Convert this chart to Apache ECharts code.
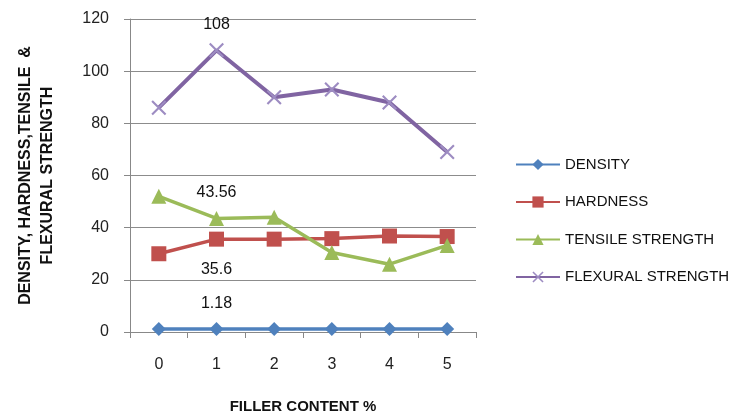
<!DOCTYPE html>
<html><head><meta charset="utf-8">
<script src="https://cdn.jsdelivr.net/npm/echarts@6/dist/echarts.min.js"></script>
<style>html,body{margin:0;padding:0;background:#fff}#c{width:740px;height:414px}</style>
</head><body><div id="c"></div>
<script>
const categories = ['0','1','2','3','4','5'];
const density = [1.18, 1.18, 1.18, 1.18, 1.18, 1.18];
const hardness = [30, 35.6, 35.6, 35.8, 36.8, 36.6];
const tensile = [52, 43.56, 44, 30.5, 26, 33.2];
const flexural = [86, 108, 90, 93, 88, 69];
const yTicks = {min: 0, max: 120, interval: 20};
const labelIndex = 1;

const font = 'Liberation Sans, Arial, sans-serif';
const crossPath = 'path://M0,1L1,0L10,9L9,10Z M9,0L10,1L1,10L0,9Z';

function mkData(vals, labelPos, offset) {
  return vals.map((v, i) => i === labelIndex ? {
    value: v,
    label: {show: true, position: labelPos, offset: [0, offset], color: '#111', fontSize: 16, fontFamily: font,
      formatter: p => String(p.value)}
  } : v);
}

const chart = echarts.init(document.getElementById('c'));
chart.setOption({
  animation: false,
  textStyle: {fontFamily: font},
  grid: {left: 130, right: 264, top: 19, bottom: 82, containLabel: false, outerBoundsMode: 'none'},
  xAxis: {
    type: 'category', data: categories, boundaryGap: true,
    name: 'FILLER CONTENT %', nameLocation: 'middle', nameGap: 67,
    nameTextStyle: {fontWeight: 'bold', fontSize: 15, color: '#111', fontFamily: font},
    axisLine: {lineStyle: {color: '#888', width: 1}},
    axisTick: {show: true, alignWithLabel: false, length: 6, lineStyle: {color: '#888'}},
    axisLabel: {fontSize: 16, color: '#222', margin: 25}
  },
  yAxis: {
    type: 'value', min: yTicks.min, max: yTicks.max, interval: yTicks.interval,
    name: 'DENSITY, HARDNESS,TENSILE  &\nFLEXURAL STRENGTH', nameLocation: 'middle', nameGap: 71,
    nameTextStyle: {fontWeight: 'bold', fontSize: 16, color: '#111', lineHeight: 22, fontFamily: font},
    axisLine: {show: true, lineStyle: {color: '#888', width: 1}},
    axisTick: {show: true, length: 6, lineStyle: {color: '#888'}},
    axisLabel: {fontSize: 16, color: '#222', margin: 21},
    splitLine: {lineStyle: {color: '#8c8c8c', width: 1}}
  },
  legend: {
    orient: 'vertical', left: 510, top: 152, itemGap: 22.5,
    itemWidth: 44, itemHeight: 14,
    textStyle: {fontSize: 15, color: '#111', fontFamily: font},
    data: ['DENSITY', 'HARDNESS', 'TENSILE STRENGTH', 'FLEXURAL STRENGTH']
  },
  series: [
    {name: 'DENSITY', type: 'line', data: mkData(density, 'top', -5), symbol: 'diamond', symbolSize: 14,
      color: '#4F81BD', lineStyle: {width: 3.5, color: '#4F81BD'}, itemStyle: {color: '#4F81BD'}},
    {name: 'HARDNESS', type: 'line', data: mkData(hardness, 'bottom', 10), symbol: 'rect', symbolSize: 15,
      color: '#C0504D', lineStyle: {width: 3.5, color: '#C0504D'}, itemStyle: {color: '#C0504D'}},
    {name: 'TENSILE STRENGTH', type: 'line', data: mkData(tensile, 'top', -5), symbol: 'triangle', symbolSize: 15,
      color: '#9BBB59', lineStyle: {width: 3.5, color: '#9BBB59'}, itemStyle: {color: '#9BBB59'}},
    {name: 'FLEXURAL STRENGTH', type: 'line', data: mkData(flexural, 'top', -5), symbol: crossPath, symbolSize: 15,
      color: '#8064A2', lineStyle: {width: 4, color: '#8064A2'}, itemStyle: {color: '#9d8cc2'}}
  ]
});
</script></body></html>
